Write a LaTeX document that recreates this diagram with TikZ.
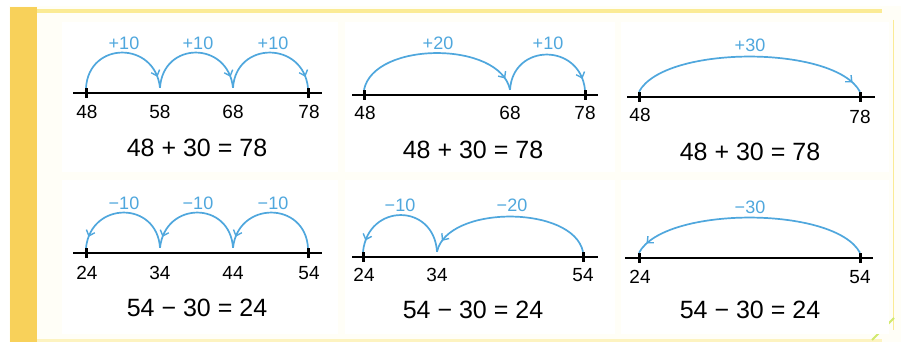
\documentclass[tikz,border=0pt]{standalone}
\usepackage{fontspec}
\setmainfont{Liberation Sans}
\usetikzlibrary{arrows.meta,decorations.markings}
\definecolor{jumpblue}{HTML}{4FA7DD}
\definecolor{stripyel}{HTML}{F8D15A}
\definecolor{lineyel}{HTML}{FBEB95}
\definecolor{bgcream}{HTML}{FFFEF7}
\tikzset{
  nline/.style={line width=2.6pt,black},
  tickmark/.style={rectangle,fill=black,minimum width=3pt,minimum height=10pt,inner sep=0pt},
  num/.style={font=\fontsize{19}{19}\selectfont,inner sep=0pt},
  eqn/.style={font=\fontsize{25}{25}\selectfont,inner sep=0pt},
  jlab/.style={font=\fontsize{18}{18}\selectfont,text=jumpblue,inner sep=0pt},
  jump/.style={jumpblue,line width=1.7pt,
    decoration={markings,mark=at position #1 with {\arrow{Straight Barb[length=5pt,width=9pt,line width=1.4pt]}}},
    postaction={decorate}},
  jump/.default=0.9,
  panel/.style={fill=white,draw=none}
}
\begin{document}
\begin{tikzpicture}[x=1pt,y=-1pt]
\useasboundingbox (0,0) rectangle (901,342);
% background
\fill[bgcream] (0,0) rectangle (901,342);
\fill[white] (0,0) rectangle (901,6);
\fill[white] (0,0) rectangle (9,342);
\fill[stripyel] (10,7) rectangle (37,342);
\fill[lineyel] (37,9) rectangle (882,13);
\fill[lineyel!60] (37,339) rectangle (882,342);
\draw[lineyel,line width=1pt] (893,20) -- (893,330);
\draw[yellow!70!green!60,line width=2pt] (872,340) -- (894,318);
% panels
\fill[panel] (62,22) rectangle (338,172);
\fill[panel] (345,22) rectangle (615,172);
\fill[panel] (621,22) rectangle (889,172);
\fill[panel] (62,180) rectangle (338,334);
\fill[panel] (345,180) rectangle (615,334);
\fill[panel] (621,180) rectangle (889,334);

% ---------- Panel 1 ----------
\coordinate (p1s) at (73,93); \coordinate (p1e) at (322,93);
\draw[nline] (p1s) -- (p1e);
\node[tickmark] (p1a) at (86,93) {};
\node[tickmark,fill=none] (p1b) at (160,93) {};
\node[tickmark,fill=none] (p1c) at (233,93) {};
\node[tickmark] (p1d) at (308,93) {};
\node[num] (l1a) at (87,112) {48};
\node[num] (l1b) at (160,112) {58};
\node[num] (l1c) at (233,112) {68};
\node[num] (l1d) at (309,112) {78};
\draw[jump] (p1a.north) .. controls +(3,-47) and +(-5,-47) .. (p1b.north);
\draw[jump] (p1b.north) .. controls +(3,-47) and +(-5,-47) .. (p1c.north);
\draw[jump] (p1c.north) .. controls +(3,-47) and +(-5,-47) .. (p1d.north);
\node[jlab] (j1a) at (124,43) {+10};
\node[jlab] (j1b) at (198,43) {+10};
\node[jlab] (j1c) at (273,43) {+10};
\node[eqn] (e1) at (197,148) {48 + 30 = 78};

% ---------- Panel 2 ----------
\coordinate (p2s) at (352,95); \coordinate (p2e) at (598,95);
\draw[nline] (p2s) -- (p2e);
\node[tickmark] (p2a) at (364,95) {};
\node[tickmark,fill=none] (p2b) at (510,95) {};
\node[tickmark] (p2c) at (585,95) {};
\node[num] (l2a) at (365,113) {48};
\node[num] (l2b) at (510,113) {68};
\node[num] (l2c) at (585,113) {78};
\draw[jump=0.93] (p2a.north) .. controls +(10,-49) and +(-10,-49) .. (p2b.north);
\draw[jump] (p2b.north) .. controls +(3,-47) and +(-5,-47) .. (p2c.north);
\node[jlab] (j2a) at (438,43) {+20};
\node[jlab] (j2b) at (548,43) {+10};
\node[eqn] (e2) at (473,150) {48 + 30 = 78};

% ---------- Panel 3 ----------
\coordinate (p3s) at (627,97); \coordinate (p3e) at (875,97);
\draw[nline] (p3s) -- (p3e);
\node[tickmark] (p3a) at (639,97) {};
\node[tickmark] (p3b) at (860,97) {};
\node[num] (l3a) at (640,115) {48};
\node[num] (l3b) at (860,117) {78};
\draw[jump=0.95] (p3a.north) .. controls +(25,-47) and +(-25,-47) .. (p3b.north);
\node[jlab] (j3a) at (750,45) {+30};
\node[eqn] (e3) at (750,152) {48 + 30 = 78};

% ---------- Panel 4 ----------
\coordinate (p4s) at (73,253); \coordinate (p4e) at (322,253);
\draw[nline] (p4s) -- (p4e);
\node[tickmark] (p4a) at (86,253) {};
\node[tickmark,fill=none] (p4b) at (160,253) {};
\node[tickmark,fill=none] (p4c) at (233,253) {};
\node[tickmark] (p4d) at (308,253) {};
\node[num] (l4a) at (87,273) {24};
\node[num] (l4b) at (160,273) {34};
\node[num] (l4c) at (233,273) {44};
\node[num] (l4d) at (309,273) {54};
\draw[jump] (p4d.north) .. controls +(-3,-47) and +(5,-47) .. (p4c.north);
\draw[jump] (p4c.north) .. controls +(-3,-47) and +(5,-47) .. (p4b.north);
\draw[jump] (p4b.north) .. controls +(-3,-47) and +(5,-47) .. (p4a.north);
\node[jlab] (j4a) at (124,203) {−10};
\node[jlab] (j4b) at (198,203) {−10};
\node[jlab] (j4c) at (273,203) {−10};
\node[eqn] (e4) at (197,308) {54 − 30 = 24};

% ---------- Panel 5 ----------
\coordinate (p5s) at (352,257); \coordinate (p5e) at (598,257);
\draw[nline] (p5s) -- (p5e);
\node[tickmark] (p5a) at (363,257) {};
\node[tickmark,fill=none] (p5b) at (437,257) {};
\node[tickmark] (p5c) at (583,257) {};
\node[num] (l5a) at (364,275) {24};
\node[num] (l5b) at (437,275) {34};
\node[num] (l5c) at (583,275) {54};
\draw[jump=0.93] (p5c.north) .. controls +(-10,-47) and +(10,-47) .. (p5b.north);
\draw[jump] (p5b.north) .. controls +(-3,-49) and +(5,-49) .. (p5a.north);
\node[jlab] (j5a) at (400,205) {−10};
\node[jlab] (j5b) at (512,205) {−20};
\node[eqn] (e5) at (473,310) {54 − 30 = 24};

% ---------- Panel 6 ----------
\coordinate (p6s) at (625,258); \coordinate (p6e) at (873,258);
\draw[nline] (p6s) -- (p6e);
\node[tickmark] (p6a) at (639,258) {};
\node[tickmark] (p6b) at (860,258) {};
\node[num] (l6a) at (640,277) {24};
\node[num] (l6b) at (860,277) {54};
\draw[jump=0.95] (p6b.north) .. controls +(-25,-47) and +(25,-47) .. (p6a.north);
\node[jlab] (j6a) at (750,207) {−30};
\node[eqn] (e6) at (750,310) {54 − 30 = 24};
\end{tikzpicture}
\end{document}
